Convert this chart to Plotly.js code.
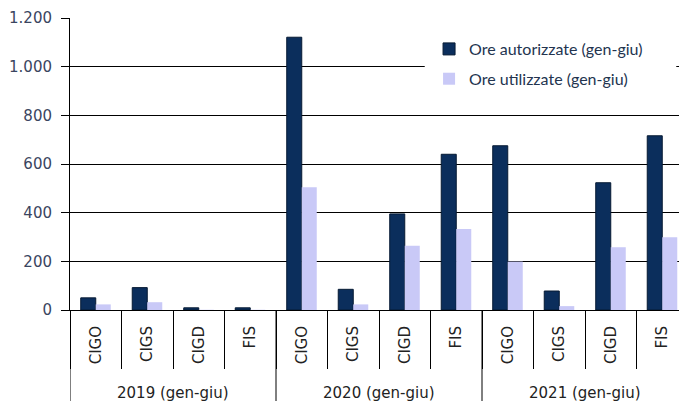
<!DOCTYPE html>
<html><head><meta charset="utf-8">
<script src="https://cdn.plot.ly/plotly-3.0.1.min.js"></script>
<style>html,body{margin:0;padding:0;overflow:hidden;background:#fff;}</style>
</head><body>
<div id="chart"></div>
<script>
const years = ['2019 (gen-giu)', '2020 (gen-giu)', '2021 (gen-giu)'];
const cats = ['CIGO', 'CIGS', 'CIGD', 'FIS'];
const autorizzate = [50, 92, 9, 9, 1121, 85, 395, 640, 675, 78, 523, 716];
const utilizzate = [23, 32, 1, 1, 504, 23, 264, 333, 199, 16, 258, 299];
const yTicks = [0, 200, 400, 600, 800, 1000, 1200];

// unique category keys (year + type), shown with the type name only
const xKeys = [], xText = [];
years.forEach(y => cats.forEach(c => { xKeys.push(y + ' ' + c); xText.push(c); }));

const traces = [
  {type: 'bar', name: 'Ore autorizzate (gen-giu)', x: xKeys, y: autorizzate,
   marker: {color: '#0b2e5c', line: {color: '#061a33', width: 1}}, legendgroup: 'a'},
  {type: 'bar', name: 'Ore utilizzate (gen-giu)', x: xKeys, y: utilizzate,
   marker: {color: '#c9c9f7', line: {width: 0}}, legendgroup: 'b'}
];

// year dividers and year labels placed on the category scale
const shapes = [];
const annotations = [];
const n = cats.length;
for (let i = 0; i <= years.length; i++) {
  shapes.push({type: 'line', xref: 'x', yref: 'paper', x0: i * n - 0.5, x1: i * n - 0.5,
    y0: 0, y1: -0.45, line: {color: '#000', width: 1}});
}
years.forEach((y, i) => {
  annotations.push({xref: 'x', yref: 'paper', x: i * n + (n - 1) / 2, y: -0.284,
    xanchor: 'center', yanchor: 'middle', showarrow: false, text: y,
    font: {family: 'DejaVu Sans, Verdana, sans-serif', size: 15, color: '#222'}});
});
// white box behind the legend
shapes.push({type: 'rect', xref: 'paper', yref: 'y', x0: 0.574, x1: 0.981, y0: 865, y1: 1150,
  fillcolor: '#fff', line: {width: 0}, layer: 'above'});

const layout = {
  width: 700, height: 430,
  margin: {l: 70, r: 12, t: 18, b: 120},
  paper_bgcolor: '#fff', plot_bgcolor: '#fff',
  separators: ',.',
  barmode: 'group', bargap: 0.417, bargroupgap: 0,
  showlegend: true,
  legend: {x: 0.581, xanchor: 'left', y: 0.952, yanchor: 'top',
    bgcolor: 'rgba(0,0,0,0)', traceorder: 'grouped', tracegroupgap: 6,
    font: {family: 'Lato, sans-serif', size: 16, color: '#23344f'}},
  xaxis: {type: 'category', tickmode: 'array', tickvals: xKeys, ticktext: xText,
    range: [-0.5, xKeys.length - 0.5],
    showline: true, linecolor: '#000', linewidth: 1,
    ticks: 'outside', tickson: 'boundaries', ticklen: 58, tickcolor: '#000', tickwidth: 1,
    tickangle: -90, ticklabelstandoff: 9,
    tickfont: {family: 'DejaVu Sans, Verdana, sans-serif', size: 15, color: '#222'}},
  yaxis: {range: [0, 1200], tickvals: yTicks, tickformat: ',d',
    showline: true, linecolor: '#000', linewidth: 1,
    ticks: 'outside', ticklen: 8, tickcolor: '#000', ticklabelstandoff: 6,
    showgrid: true, gridcolor: '#000', gridwidth: 1, zeroline: false,
    tickfont: {family: 'DejaVu Sans, Verdana, sans-serif', size: 15, color: '#3a4560'}},
  shapes: shapes,
  annotations: annotations
};

Plotly.newPlot('chart', traces, layout, {displayModeBar: false, staticPlot: true});
</script>
</body></html>
